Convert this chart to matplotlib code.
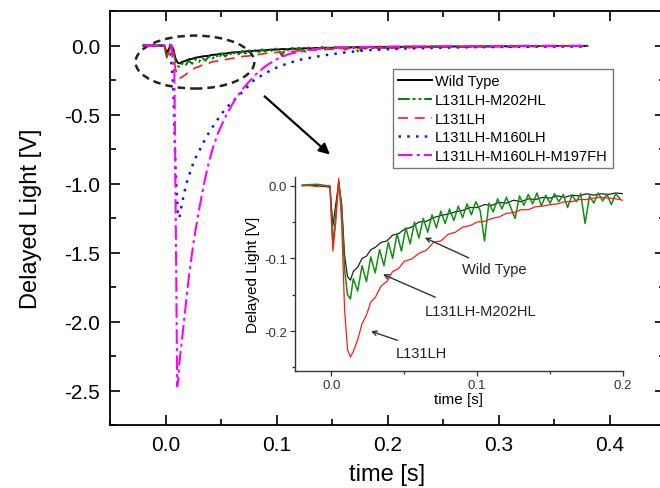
import numpy as np
import matplotlib.pyplot as plt
from matplotlib.patches import Ellipse
from matplotlib.ticker import MultipleLocator

plt.rcParams['font.family'] = ['Liberation Sans', 'DejaVu Sans']
plt.rcParams['axes.unicode_minus'] = False

# early part of the transients (shared by main plot and inset), s
t_early = [-0.020, -0.015, -0.010, -0.005, -0.001, 0.001, 0.003, 0.005, 0.007, 0.009,
           0.011, 0.013, 0.015, 0.018, 0.021, 0.024, 0.027, 0.030, 0.034, 0.038,
           0.042, 0.046, 0.050, 0.055, 0.060, 0.065, 0.070, 0.075, 0.080, 0.085,
           0.090, 0.095, 0.100, 0.105, 0.110, 0.115, 0.120, 0.125, 0.130, 0.135,
           0.140, 0.145, 0.150, 0.155, 0.160, 0.165, 0.170, 0.175, 0.180, 0.185,
           0.190, 0.195, 0.200]
wt_early = [0.000, 0.001, 0.000, -0.001, -0.002, -0.055, -0.025, 0.004, -0.025, -0.095,
            -0.125, -0.130, -0.118, -0.112, -0.100, -0.097, -0.088, -0.085, -0.078, -0.076,
            -0.068, -0.066, -0.060, -0.057, -0.050, -0.049, -0.044, -0.041, -0.039, -0.036,
            -0.034, -0.030, -0.030, -0.026, -0.027, -0.023, -0.024, -0.020, -0.022, -0.018,
            -0.019, -0.016, -0.017, -0.014, -0.016, -0.013, -0.014, -0.011, -0.013, -0.011,
            -0.012, -0.010, -0.011]
l131_early = [0.000, 0.000, -0.001, 0.000, -0.002, -0.090, -0.050, 0.010, -0.050, -0.170,
              -0.225, -0.236, -0.228, -0.212, -0.190, -0.178, -0.160, -0.154, -0.138, -0.132,
              -0.118, -0.114, -0.104, -0.101, -0.093, -0.089, -0.078, -0.076, -0.067, -0.064,
              -0.057, -0.055, -0.050, -0.049, -0.045, -0.043, -0.038, -0.037, -0.033, -0.033,
              -0.029, -0.028, -0.026, -0.025, -0.022, -0.022, -0.019, -0.019, -0.017, -0.016,
              -0.017, -0.018, -0.020]

# M202HL is noisier, read on a finer grid
t_m202 = [-0.020, -0.010, -0.003, -0.001, 0.001, 0.003, 0.005, 0.007, 0.009, 0.011, 0.013,
          0.015, 0.018, 0.021, 0.024, 0.027, 0.030, 0.033, 0.036, 0.039, 0.042,
          0.045, 0.048, 0.051, 0.054, 0.057, 0.060, 0.063, 0.066, 0.069, 0.072,
          0.075, 0.078, 0.081, 0.084, 0.087, 0.090, 0.093, 0.096, 0.099, 0.102,
          0.105, 0.108, 0.111, 0.114, 0.117, 0.120, 0.123, 0.126, 0.129, 0.132,
          0.135, 0.138, 0.141, 0.144, 0.147, 0.150, 0.153, 0.156, 0.159, 0.162,
          0.165, 0.168, 0.171, 0.174, 0.177, 0.180, 0.183, 0.186, 0.189, 0.192,
          0.195, 0.198]
m202_early = [0.001, 0.002, 0.000, 0.000, -0.080, -0.040, 0.006, -0.030, -0.115, -0.150, -0.156,
              -0.128, -0.145, -0.110, -0.132, -0.098, -0.120, -0.088, -0.110, -0.078, -0.100,
              -0.066, -0.090, -0.058, -0.080, -0.050, -0.072, -0.045, -0.064, -0.040, -0.058,
              -0.035, -0.052, -0.032, -0.048, -0.028, -0.044, -0.025, -0.040, -0.022, -0.034,
              -0.076, -0.024, -0.036, -0.018, -0.032, -0.016, -0.030, -0.045, -0.014, -0.027,
              -0.012, -0.025, -0.010, -0.028, -0.013, -0.024, -0.011, -0.022, -0.012, -0.030,
              -0.013, -0.022, -0.011, -0.052, -0.014, -0.024, -0.010, -0.021, -0.012, -0.026,
              -0.011, -0.018]

# late part (main plot only)
t_late = [0.21, 0.22, 0.23, 0.24, 0.25, 0.26, 0.27, 0.28, 0.29, 0.30,
          0.31, 0.32, 0.33, 0.34, 0.35, 0.36, 0.37, 0.38]
wt_late = [-0.010, -0.009, -0.010, -0.008, -0.008, -0.007, -0.008, -0.006, -0.006, -0.005,
           -0.006, -0.004, -0.005, -0.004, -0.003, -0.004, -0.003, -0.003]
m202_late = [-0.012, -0.008, -0.014, -0.007, -0.010, -0.006, -0.011, -0.005, -0.008, -0.004,
             -0.009, -0.004, -0.006, -0.003, -0.007, -0.003, -0.005, -0.002]
l131_late = [-0.018, -0.016, -0.015, -0.013, -0.012, -0.011, -0.010, -0.009, -0.009, -0.008,
             -0.007, -0.007, -0.006, -0.006, -0.005, -0.005, -0.004, -0.004]

t_m160 = [-0.020, -0.010, 0.000, 0.004, 0.007, 0.009, 0.011, 0.0125, 0.014, 0.016,
          0.018, 0.020, 0.023, 0.026, 0.030, 0.035, 0.040, 0.045, 0.050, 0.055,
          0.060, 0.070, 0.080, 0.090, 0.100, 0.110, 0.120, 0.130, 0.140, 0.150,
          0.160, 0.180, 0.200, 0.220, 0.250, 0.280, 0.310, 0.340, 0.380]
v_m160 = [0.000, 0.000, 0.000, 0.005, -0.300, -0.900, -1.200, -1.250, -1.180, -1.100,
          -1.030, -0.970, -0.900, -0.830, -0.770, -0.690, -0.620, -0.560, -0.500, -0.450,
          -0.410, -0.330, -0.250, -0.200, -0.160, -0.130, -0.105, -0.090, -0.075, -0.063,
          -0.052, -0.035, -0.027, -0.021, -0.016, -0.012, -0.010, -0.008, -0.008]

t_m197 = [-0.020, -0.010, 0.000, 0.005, 0.008, 0.0095, 0.0105, 0.0115, 0.0125, 0.015,
          0.018, 0.021, 0.024, 0.027, 0.030, 0.034, 0.038, 0.042, 0.047, 0.055,
          0.062, 0.070, 0.080, 0.090, 0.100, 0.110, 0.120, 0.136, 0.150, 0.180,
          0.210, 0.250, 0.300, 0.340, 0.380]
v_m197 = [0.000, 0.000, 0.000, 0.005, -0.200, -1.500, -2.470, -2.420, -2.300, -2.120,
          -1.900, -1.680, -1.500, -1.340, -1.200, -1.030, -0.880, -0.760, -0.640, -0.500,
          -0.400, -0.310, -0.220, -0.150, -0.100, -0.065, -0.045, -0.025, -0.017, -0.010,
          -0.007, -0.005, -0.003, -0.002, -0.002]

labels = ["Wild Type", "L131LH-M202HL", "L131LH", "L131LH-M160LH", "L131LH-M160LH-M197FH"]
colors = ["black", "#008000", "#ff1a1a", "#1010ff", "#ff00ff"]

fig = plt.figure(figsize=(6.6, 4.89), dpi=100)
ax = fig.add_axes([110 / 660, 1 - 426 / 489, 555 / 660, 414 / 489])

ax.plot(t_early + t_late, wt_early + wt_late, color=colors[0], lw=1.4, label=labels[0])
ax.plot(t_m202 + t_late, m202_early + m202_late, color=colors[1], lw=1.4,
        ls=(0, (6, 1.5, 1.5, 1.5, 1.5, 1.5)), label=labels[1])
ax.plot(t_early + t_late, l131_early + l131_late, color=colors[2], lw=1.2,
        ls=(0, (6, 4)), label=labels[2])
ax.plot(t_m160, v_m160, color=colors[3], lw=1.8, ls=(0, (1, 2.5)), label=labels[3])
ax.plot(t_m197, v_m197, color=colors[4], lw=1.5,
        ls=(0, (7, 2, 1.5, 2)), label=labels[4])

ax.set_xlim(-0.05, 0.45)
ax.set_ylim(-2.75, 0.25)
ax.xaxis.set_major_locator(MultipleLocator(0.1))
ax.xaxis.set_minor_locator(MultipleLocator(0.05))
ax.yaxis.set_major_locator(MultipleLocator(0.5))
ax.yaxis.set_minor_locator(MultipleLocator(0.25))
ax.tick_params(which='both', direction='in', top=True, right=True, labelsize=15, width=1.2)
ax.tick_params(which='major', length=7, pad=7)
ax.tick_params(which='minor', length=4)
for s in ax.spines.values():
    s.set_linewidth(1.3)
ax.set_xlabel("time [s]", fontsize=17, labelpad=7)
ax.set_ylabel("Delayed Light [V]", fontsize=17, labelpad=16)

ax.add_patch(Ellipse((0.0265, -0.12), 0.107, 0.384, fill=False, color='#222222',
                     lw=1.8, ls=(0, (3, 2))))
ax.annotate('', xy=(0.150, -0.804), xytext=(0.0874, -0.355),
            arrowprops=dict(arrowstyle='-|>', color='black', lw=1.6, mutation_scale=16))

leg = ax.legend(loc='upper left', bbox_to_anchor=(386 / 660, 1 - 63 / 489),
                bbox_transform=fig.transFigure, fontsize=10.5, handlelength=2.3,
                handletextpad=0.2, labelspacing=0.32, borderpad=0.35,
                frameon=True, fancybox=False, edgecolor='#555555')
leg.get_frame().set_linewidth(1.0)

# inset
axi = fig.add_axes([295 / 660, 1 - 372 / 489, 328 / 660, 194 / 489])
axi.patch.set_alpha(0)
axi.plot(t_early, wt_early, color='#222222', lw=0.9)
axi.plot(t_m202, m202_early, color='#109010', lw=1.1)
axi.plot(t_early, l131_early, color='#ff1a1a', lw=0.9)
axi.set_xlim(-0.025, 0.2)
axi.set_ylim(-0.255, 0.012)
axi.xaxis.set_major_locator(MultipleLocator(0.1))
axi.xaxis.set_minor_locator(MultipleLocator(0.05))
axi.yaxis.set_major_locator(MultipleLocator(0.1))
axi.yaxis.set_minor_locator(MultipleLocator(0.05))
axi.spines['top'].set_visible(False)
axi.spines['right'].set_visible(False)
for s in ['left', 'bottom']:
    axi.spines[s].set_linewidth(1.0)
    axi.spines[s].set_color('#333333')
axi.tick_params(which='both', direction='out', labelsize=9.5, colors='#333333', width=0.9)
axi.tick_params(which='major', length=3.5, pad=2)
axi.tick_params(which='minor', length=2)
axi.set_xlabel("time [s]", fontsize=11, labelpad=1)
axi.set_ylabel("Delayed Light [V]", fontsize=11, labelpad=3)

arrow_kw = dict(arrowstyle='->', color='#333333', lw=1.0, mutation_scale=8)
axi.annotate('', xy=(0.0623, -0.070), xytext=(0.096, -0.101), arrowprops=arrow_kw)
axi.text(0.112, -0.114, "Wild Type", fontsize=10.5, ha='center', va='center', color='#222222')
axi.annotate('', xy=(0.0336, -0.1205), xytext=(0.073, -0.155), arrowprops=arrow_kw)
axi.text(0.102, -0.173, "L131LH-M202HL", fontsize=10.5, ha='center', va='center', color='#222222')
axi.annotate('', xy=(0.0253, -0.199), xytext=(0.047, -0.214), arrowprops=arrow_kw)
axi.text(0.062, -0.230, "L131LH", fontsize=10.5, ha='center', va='center', color='#222222')

fig.savefig("out.png", dpi=100)
